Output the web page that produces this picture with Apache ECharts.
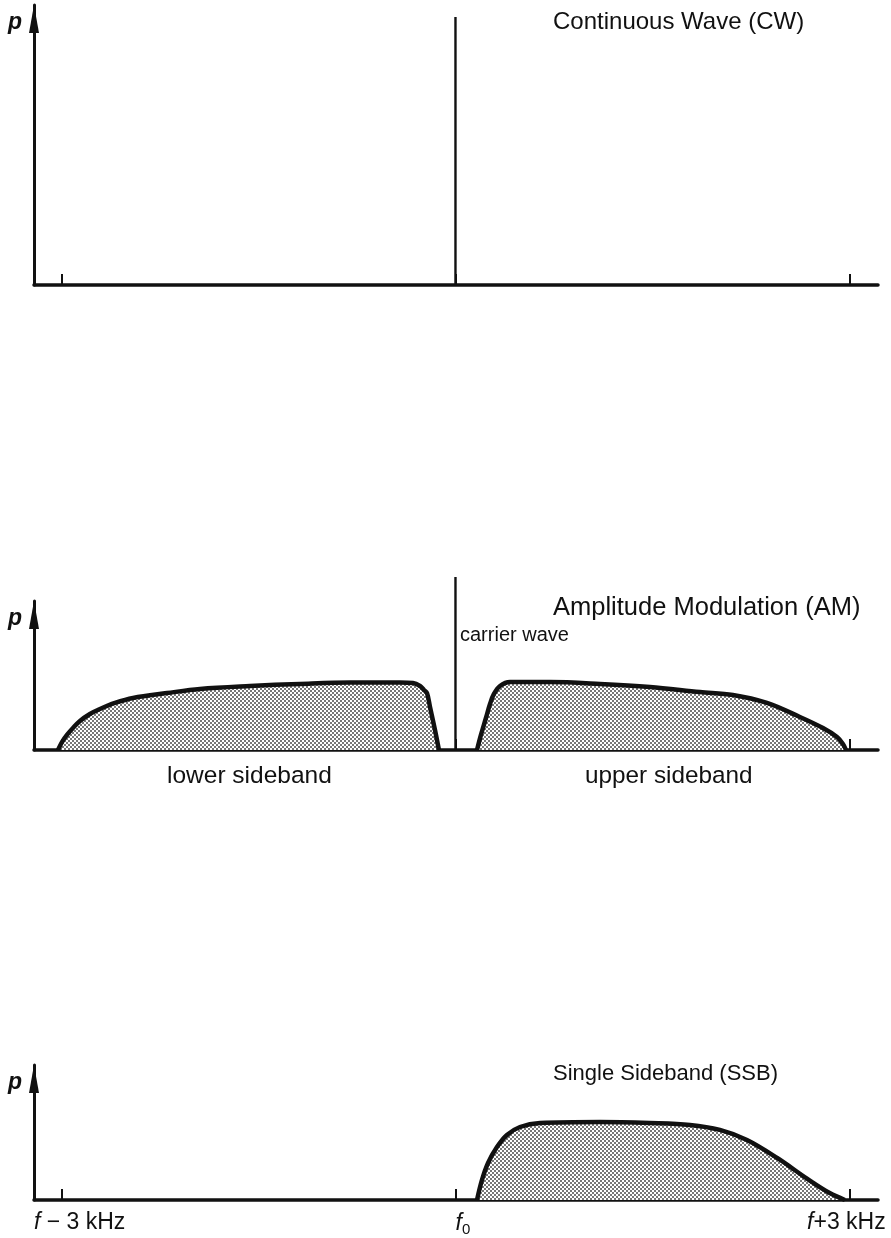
<!DOCTYPE html>
<html><head><meta charset="utf-8">
<script src="https://cdn.jsdelivr.net/npm/echarts@6/dist/echarts.min.js"></script>
<style>html,body{margin:0;padding:0;background:#fff}#c{width:891px;height:1238px}</style>
</head><body><div id="c"></div>
<script>
// frequency offsets from carrier (kHz) and relative power
const tickValues = [-3, 0, 3];
const tickLabels = ['{g36| }{i|f} − 3 kHz', '{g15| }{i|f}{s|0}', '{i|f}+3 kHz{g6| }'];
const panelTitles = ['Continuous Wave (CW)', 'Amplitude Modulation (AM)', 'Single Sideband (SSB)'];
const cwCarrier = [[0, 0], [0, 1]];
const amCarrier = [[0, 0], [0, 1]];
const amLower = [[-3.027,0],[-2.997,0.046],[-2.959,0.087],[-2.913,0.127],[-2.860,0.168],[-2.784,0.208],[-2.708,0.237],[-2.593,0.272],[-2.456,0.301],[-2.197,0.329],[-1.946,0.353],[-1.565,0.370],[-1.184,0.382],[-0.804,0.390],[-0.423,0.390],[-0.324,0.387],[-0.270,0.370],[-0.240,0.347],[-0.217,0.329],[-0.194,0.249],[-0.156,0.116],[-0.126,0]];
const amUpper = [[0.164,0],[0.194,0.087],[0.232,0.185],[0.263,0.266],[0.293,0.324],[0.339,0.370],[0.415,0.393],[0.720,0.393],[1.101,0.382],[1.481,0.364],[1.862,0.335],[2.113,0.318],[2.372,0.272],[2.623,0.191],[2.799,0.127],[2.906,0.075],[2.951,0.035],[2.974,0]];
const ssbUpper = [[0.164,0],[0.202,0.116],[0.248,0.214],[0.316,0.306],[0.392,0.376],[0.491,0.422],[0.644,0.445],[1.101,0.451],[1.481,0.445],[1.786,0.434],[2.014,0.405],[2.220,0.347],[2.450,0.243],[2.680,0.122],[2.850,0.040],[2.966,0]];

const FONT = 'Liberation Sans';
const INK = '#111';
const pat = document.createElement('canvas');
pat.width = 4; pat.height = 4;
const pc = pat.getContext('2d');
pc.fillStyle = '#fff'; pc.fillRect(0, 0, 4, 4);
pc.fillStyle = '#777'; pc.fillRect(0, 0, 2, 2); pc.fillRect(2, 2, 2, 2);
const fill = { image: pat, repeat: 'repeat' };

const grids = [
  { left: 34, right: 13, top: 5, height: 280, containLabel: false, outerBoundsMode: 'none' },
  { left: 34, right: 13, top: 601, height: 149, containLabel: false, outerBoundsMode: 'none' },
  { left: 34, right: 13, top: 1065, height: 135, containLabel: false, outerBoundsMode: 'none' }
];
const yMax = [280 / 268, 149 / 173, 135 / 173];

function xAx(i) {
  return {
    type: 'value', gridIndex: i, min: -3.21, max: 3.218,
    axisLine: { show: true, onZero: false, lineStyle: { color: INK, width: 3.5 } },
    axisTick: { show: true, inside: true, length: 11, customValues: tickValues, lineStyle: { color: INK, width: 2 } },
    axisLabel: {
      show: i === 2, customValues: tickValues, margin: 11, color: INK, fontFamily: FONT, fontSize: 23,
      hideOverlap: false,
      formatter: (v) => tickLabels[tickValues.indexOf(v)],
      rich: {
        i: { fontStyle: 'italic', fontFamily: FONT, fontSize: 23, color: INK },
        s: { fontSize: 15, fontFamily: FONT, color: INK, padding: [11, 0, 0, 0] },
        g36: { width: 36 }, g15: { width: 15 }, g6: { width: 6 }
      }
    },
    splitLine: { show: false }
  };
}
function yAx(i) {
  return {
    type: 'value', gridIndex: i, min: 0, max: yMax[i],
    name: 'p', nameLocation: 'end', nameGap: -18,
    nameTextStyle: { fontFamily: FONT, fontStyle: 'italic', fontWeight: 'bold', fontSize: 23, color: INK, align: 'right', verticalAlign: 'middle', padding: [0, 12, 0, 0] },
    axisLine: { show: true, onZero: false, symbol: ['none', 'triangle'], symbolSize: [10, 28], symbolOffset: [0, -14], lineStyle: { color: INK, width: 3 } },
    axisTick: { show: false }, axisLabel: { show: false }, splitLine: { show: false }
  };
}
function carrier(i, data) {
  return { type: 'line', xAxisIndex: i, yAxisIndex: i, data, symbol: 'none', clip: false, lineStyle: { color: INK, width: 2.4 }, z: 3 };
}
function band(i, data) {
  return { type: 'line', xAxisIndex: i, yAxisIndex: i, data, symbol: 'none', smooth: 0.35, clip: false, lineStyle: { color: INK, width: 4.5, join: 'round' }, areaStyle: { color: fill, opacity: 1 }, z: 2 };
}
function txt(text, left, top, size) {
  return { text, left, top, padding: 0, textStyle: { fontFamily: FONT, fontSize: size, fontWeight: 'normal', color: INK } };
}
const chart = echarts.init(document.getElementById('c'), null, { renderer: 'canvas' });
chart.setOption({
  backgroundColor: '#fff',
  animation: false,
  title: [
    txt(panelTitles[0], 553, 10, 24),
    txt(panelTitles[1], 553, 595, 25.5),
    txt('carrier wave', 460, 625, 20),
    txt('lower sideband', 167, 764, 24.5),
    txt('upper sideband', 585, 764, 24.3),
    txt(panelTitles[2], 553, 1063, 22)
  ],
  grid: grids,
  xAxis: [xAx(0), xAx(1), xAx(2)],
  yAxis: [yAx(0), yAx(1), yAx(2)],
  series: [
    carrier(0, cwCarrier),
    band(1, amLower), band(1, amUpper), carrier(1, amCarrier),
    band(2, ssbUpper)
  ]
});
</script></body></html>
